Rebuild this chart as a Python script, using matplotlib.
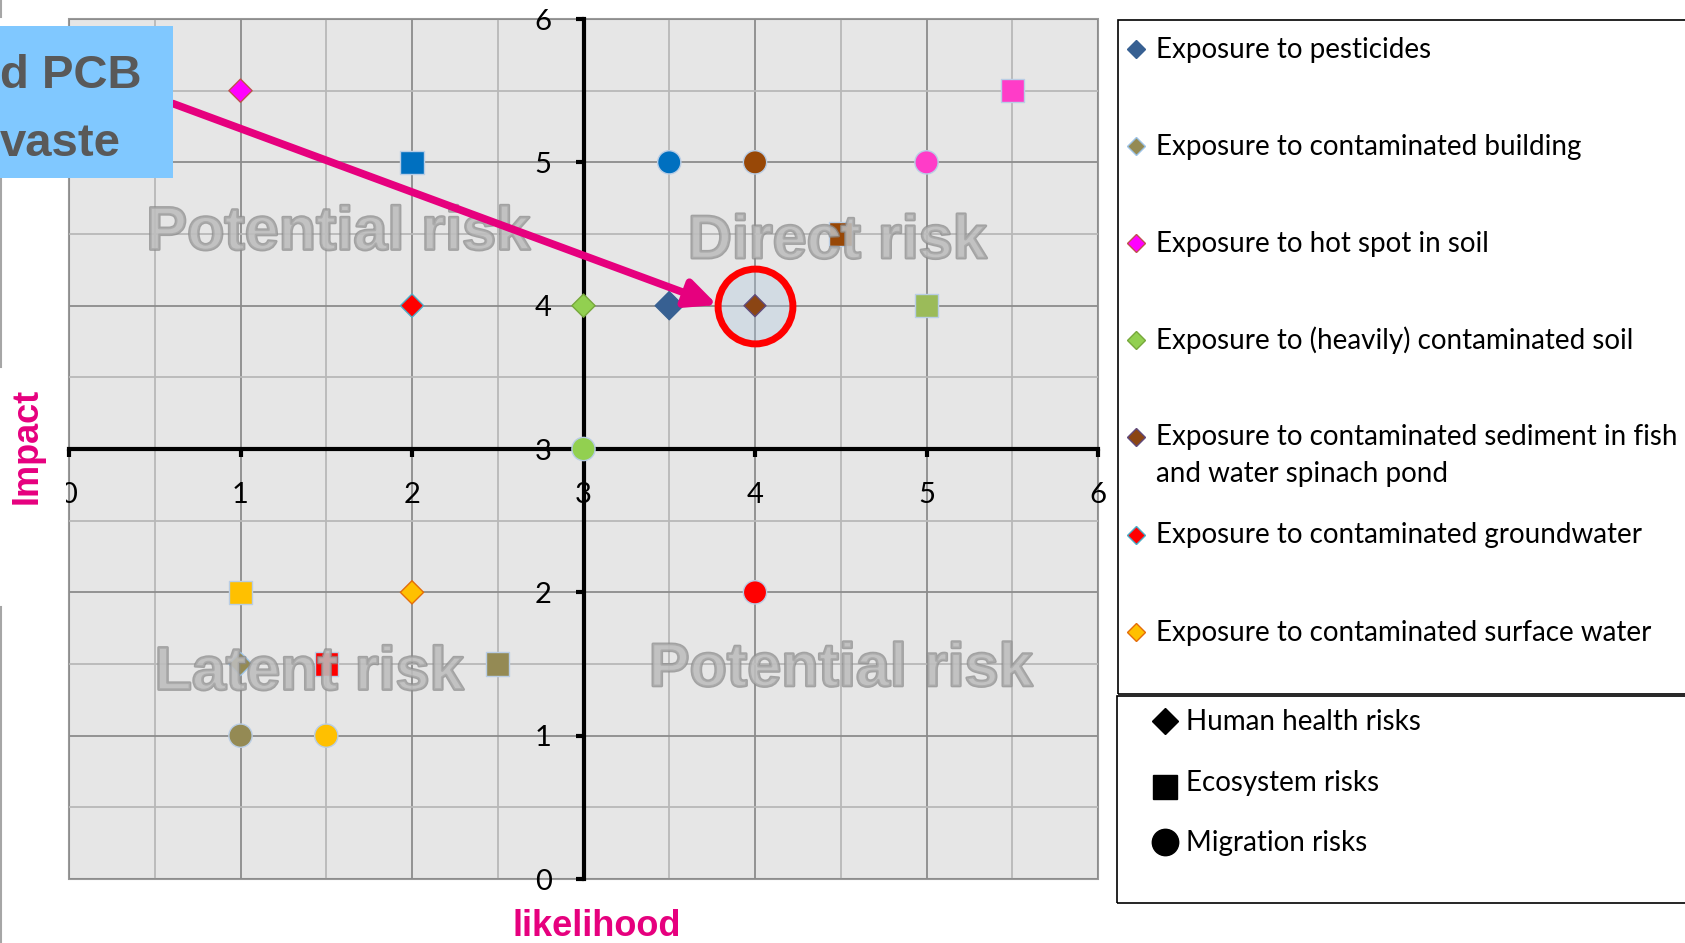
import matplotlib
matplotlib.use("Agg")
import matplotlib.pyplot as plt
import matplotlib.patheffects as pe
from matplotlib.lines import Line2D
from matplotlib.patches import Rectangle
from matplotlib.ticker import MultipleLocator

# ---- data ----
health_labels = [
    "Exposure to pesticides",
    "Exposure to contaminated building",
    "Exposure to hot spot in soil",
    "Exposure to (heavily) contaminated soil",
    "Exposure to contaminated sediment in fish\nand water spinach pond",
    "Exposure to contaminated groundwater",
    "Exposure to contaminated surface water",
]
health_x = [3.5, 1, 1, 3, 4, 2, 2]
health_y = [4, 1.5, 5.5, 4, 4, 4, 2]
health_colors = ["#376092", "#948A54", "#FF00FF", "#92D050", "#8B4513", "#FF0000", "#FFC000"]
health_edges = ["#376092", "#9DC3E6", "#C0504D", "#77A83C", "#604A7B", "#4BACC6", "#E46C0A"]

eco_x = [2, 5.5, 4.5, 5, 1, 1.5, 2.5]
eco_y = [5, 5.5, 4.5, 4, 2, 1.5, 1.5]
eco_colors = ["#0070C0", "#FF3CC8", "#984807", "#9BBB59", "#FFC000", "#FF0000", "#948A54"]

migr_x = [3.5, 4, 5, 3, 4, 1, 1.5]
migr_y = [5, 5, 5, 3, 2, 1, 1]
migr_colors = ["#0070C0", "#984807", "#FF3CC8", "#92D050", "#FF0000", "#948A54", "#FFC000"]

risk_types = ["Human health risks", "Ecosystem risks", "Migration risks"]
risk_markers = ["D", "s", "o"]

quadrant_labels = ["Potential risk", "Direct risk", "Latent risk", "Potential risk"]
quadrant_x = [1.57, 4.48, 1.4, 4.5]
quadrant_y = [4.50, 4.44, 1.43, 1.455]

highlight = (4, 4)
arrow_from = (0.606, 5.41)
arrow_to = (3.78, 4.005)

# ---- figure ----
W, H, DPI = 1685, 943, 100
plt.rcParams["font.family"] = ["Lato", "DejaVu Sans"]
fig = plt.figure(figsize=(W / DPI, H / DPI), dpi=DPI)


def fx(px):
    return px / W


def fy(py):
    return 1 - py / H


ax = fig.add_axes([fx(69), fy(879), 1029 / W, 860 / H])
ax.set_facecolor("#E6E6E6")
ax.set_xlim(0, 6)
ax.set_ylim(0, 6)
ax.set_xticks(range(7))
ax.set_yticks(range(7))
ax.xaxis.set_minor_locator(MultipleLocator(0.5))
ax.yaxis.set_minor_locator(MultipleLocator(0.5))
ax.set_axisbelow(True)
ax.grid(which="major", color="#8C8C8C", lw=1.3)
ax.grid(which="minor", color="#B8B8B8", lw=1.3)
ax.tick_params(which="major", direction="out", length=6, width=3, labelsize=21)
ax.tick_params(axis="x", which="major", pad=18)
ax.tick_params(axis="y", which="major", pad=17)
ax.tick_params(which="minor", length=0)

for side in ["left", "bottom"]:
    ax.spines[side].set_position(("data", 3))
    ax.spines[side].set_linewidth(3)
for side in ["top", "right"]:
    ax.spines[side].set_visible(False)
ax.add_patch(Rectangle((0, 0), 1, 1, transform=ax.transAxes, fill=False,
                       edgecolor="#999999", lw=1.5, clip_on=False, zorder=0.5))

# highlighted point
ax.scatter([highlight[0]], [highlight[1]], s=2900, marker="o",
           facecolor=(0.68, 0.78, 0.88, 0.35), edgecolor="#FF0000", lw=5, zorder=3)

# the three series
health_sizes = [205, 140, 140, 140, 125, 140, 140]
ax.scatter(health_x, health_y, s=health_sizes, marker="D", c=health_colors,
           edgecolors=health_edges, linewidths=1, zorder=4)
ax.scatter(eco_x, eco_y, s=280, marker="s", c=eco_colors,
           edgecolors="#B9CDE5", linewidths=1, zorder=4)
ax.scatter(migr_x, migr_y, s=280, marker="o", c=migr_colors,
           edgecolors="#B9CDE5", linewidths=1, zorder=4)

# quadrant watermarks
for lab, qx, qy in zip(quadrant_labels, quadrant_x, quadrant_y):
    ax.text(qx, qy, lab, ha="center", va="center", fontsize=44, fontweight="bold",
            family="Liberation Sans", color="#BEBEBE", alpha=0.5, zorder=6,
            path_effects=[pe.Stroke(linewidth=2, foreground="#8C8C8C", alpha=0.75),
                          pe.Normal()])

ax.annotate("", xy=arrow_to, xytext=arrow_from, zorder=7,
            arrowprops=dict(arrowstyle="-|>,head_length=0.9,head_width=0.42",
                            color="#E6007E", lw=5.5, mutation_scale=20,
                            shrinkA=0, shrinkB=0))

# axis titles
pink = "#E6007E"
fig.add_artist(Rectangle((0, fy(607)), fx(66), (607 - 367) / H, transform=fig.transFigure,
                         facecolor="white", edgecolor="none", zorder=2))
fig.text(fx(27), fy(446), "Impact", rotation=90, ha="center", va="center",
         fontsize=26, fontweight="bold", family="Liberation Sans", color=pink, zorder=3)
fig.text(fx(597), fy(926), "likelihood", ha="center", va="center",
         fontsize=26, fontweight="bold", family="Liberation Sans", color=pink)

# left edge line and cropped callout box
for y0, y1 in [(0, 17), (178, 367), (607, 943)]:
    fig.add_artist(Line2D([fx(1), fx(1)], [fy(y0), fy(y1)], color="#A6A6A6", lw=1.5))
fig.add_artist(Rectangle((0, fy(178)), fx(173), (178 - 26) / H, transform=fig.transFigure,
                         facecolor="#80C8FF", edgecolor="none", zorder=2))
fig.text(fx(0), fy(76), "d PCB", ha="left", va="center", fontsize=34, fontweight="bold",
         family="Liberation Sans", color="#595959", zorder=3)
fig.text(fx(0), fy(144), "vaste", ha="left", va="center", fontsize=34, fontweight="bold",
         family="Liberation Sans", color="#595959", zorder=3)

# legend boxes
fig.add_artist(Rectangle((fx(1118), fy(694)), fx(W + 10 - 1118), (694 - 20) / H,
                         transform=fig.transFigure, fill=False, edgecolor="black", lw=1.2))
fig.add_artist(Rectangle((fx(1117), fy(903)), fx(W + 10 - 1117), (903 - 696) / H,
                         transform=fig.transFigure, fill=False, edgecolor="black", lw=1.2))

for i, lab in enumerate(health_labels):
    yc = 49 + i * 97.1
    extra = lab.count("\n") * 36
    fig.add_artist(Line2D([fx(1136)], [fy(yc)], marker="D", ms=9, ls="",
                          color=health_colors[i], mec=health_edges[i], mew=1))
    fig.text(fx(1156), fy(yc + 9 + extra), lab, ha="left", va="baseline", fontsize=20,
             linespacing=1.55)

for i, (lab, m) in enumerate(zip(risk_types, risk_markers)):
    yc = 721 + i * 60.5
    ms = {"D": 13, "s": 17, "o": 19}[m]
    my = yc + 5 if m == "s" else yc
    fig.add_artist(Line2D([fx(1165)], [fy(my)], marker=m, ms=ms, ls="", color="black"))
    fig.text(fx(1186), fy(yc + 9), lab, ha="left", va="baseline", fontsize=20)

fig.savefig("out.png", dpi=DPI)
